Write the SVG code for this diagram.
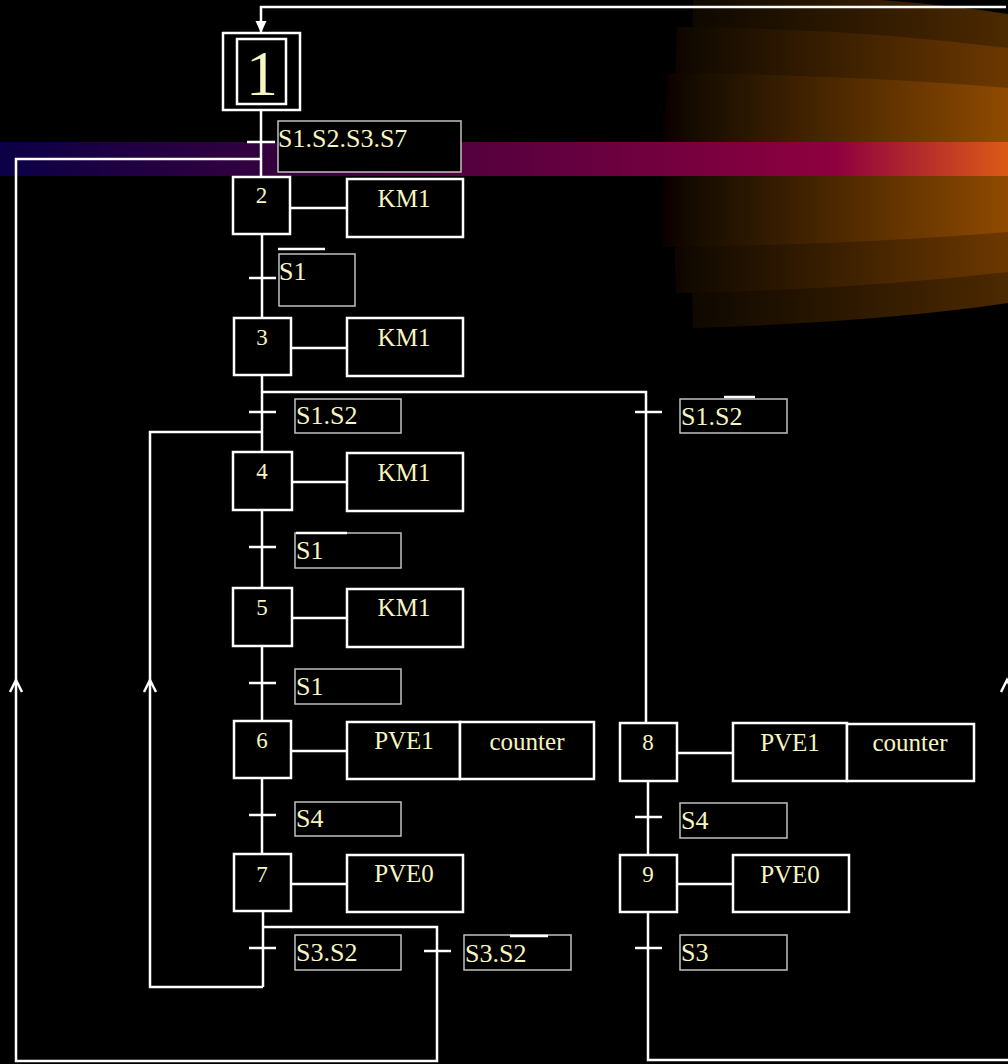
<svg xmlns="http://www.w3.org/2000/svg" width="1008" height="1064" viewBox="0 0 1008 1064">
<defs>
<linearGradient id="band" x1="0" y1="0" x2="1008" y2="0" gradientUnits="userSpaceOnUse">
<stop offset="0" stop-color="#0b0046"/>
<stop offset="0.3" stop-color="#3a003d"/>
<stop offset="0.55" stop-color="#62003f"/>
<stop offset="0.83" stop-color="#8f003f"/>
<stop offset="1" stop-color="#dc5a16"/>
</linearGradient>
<linearGradient id="o1" x1="665" y1="0" x2="1008" y2="0" gradientUnits="userSpaceOnUse">
<stop offset="0" stop-color="#0c0000"/>
<stop offset="0.08" stop-color="#0e0800"/>
<stop offset="1" stop-color="#4c2900"/>
</linearGradient>
<linearGradient id="o2" x1="665" y1="0" x2="1008" y2="0" gradientUnits="userSpaceOnUse">
<stop offset="0" stop-color="#0c0000"/>
<stop offset="0.08" stop-color="#120a00"/>
<stop offset="1" stop-color="#6c3800"/>
</linearGradient>
<linearGradient id="o3" x1="665" y1="0" x2="1008" y2="0" gradientUnits="userSpaceOnUse">
<stop offset="0" stop-color="#0c0000"/>
<stop offset="0.08" stop-color="#150c00"/>
<stop offset="1" stop-color="#8f4a00"/>
</linearGradient>
<marker id="ah" markerWidth="12" markerHeight="12" refX="12" refY="5.5" orient="auto" markerUnits="userSpaceOnUse" viewBox="0 0 12 11">
<path d="M0,0 L12,5.5 L0,11 Z" fill="#fff"/>
</marker>
</defs>
<style>
.step{fill:#000;stroke:#fff;stroke-width:2.5}
.act{fill:#000;stroke:#fff;stroke-width:2.5}
.cond{fill:#000;stroke:#c0c0c0;stroke-width:1.5}
.ln{fill:none;stroke:#fff;stroke-width:2.5}
.ov{stroke:#fff;stroke-width:2.5}
.t{font-family:"Liberation Serif","Times New Roman",serif;fill:#f7f5c0}
.num{font-size:23px;text-anchor:middle}
.an{font-size:25px;text-anchor:middle}
.ct{font-size:26px}
</style>
<rect x="0" y="0" width="1008" height="1064" fill="#000"/>
<g id="background">
<path d="M693,0 L880,0 Q950,5 1008,14 L1008,303 Q880,322 693,328 Q688,165 693,0 Z" fill="url(#o1)"/>
<path d="M677,27 Q850,28 1008,48 L1008,272 Q850,290 676,293 Q671,160 677,27 Z" fill="url(#o2)"/>
<path d="M668,73 Q850,75 1008,88 L1008,232 Q850,245 663,247 Q661,160 668,73 Z" fill="url(#o3)"/>
<rect x="0" y="142" width="1008" height="34" fill="url(#band)"/>
</g>
<g id="connectors">
<path class="ln" d="M1006,7 L261,7 L261,33" marker-end="url(#ah)"/>
<path class="ln" d="M261,110 L261,177"/>
<path class="ln" d="M247,142 L275,142"/>
<path class="ln" d="M261,159 L16,159 L16,1061 L437,1061 L437,927 L263,927"/>
<path class="ln" d="M10,692 L16,680 L22,692"/>
<path class="ln" d="M290,208 L347,208"/>
<path class="ln" d="M262,234 L262,318"/>
<path class="ln" d="M249,278 L276,278"/>
<path class="ln" d="M291,348 L347,348"/>
<path class="ln" d="M262,375 L262,453"/>
<path class="ln" d="M262,392 L646,392 L646,722"/>
<path class="ln" d="M249,412 L276,412"/>
<path class="ln" d="M635,412 L662,412"/>
<path class="ln" d="M262,432 L150,432 L150,987 L263,987"/>
<path class="ln" d="M144,692 L150,680 L156,692"/>
<path class="ln" d="M292,482 L347,482"/>
<path class="ln" d="M262,510 L262,588"/>
<path class="ln" d="M249,547 L276,547"/>
<path class="ln" d="M292,618 L347,618"/>
<path class="ln" d="M262,646 L262,721"/>
<path class="ln" d="M249,683 L276,683"/>
<path class="ln" d="M291,751 L347,751"/>
<path class="ln" d="M262,778 L262,854"/>
<path class="ln" d="M249,815 L276,815"/>
<path class="ln" d="M291,884 L347,884"/>
<path class="ln" d="M263,911 L263,987"/>
<path class="ln" d="M249,948 L276,948"/>
<path class="ln" d="M424,951 L451,951"/>
<path class="ln" d="M677,753 L733,753"/>
<path class="ln" d="M648,781 L648,854"/>
<path class="ln" d="M635,817 L662,817"/>
<path class="ln" d="M677,884 L733,884"/>
<path class="ln" d="M648,912 L648,1060 L1008,1060"/>
<path class="ln" d="M635,948 L662,948"/>
<path class="ln" d="M1001,692 L1007,680 L1013,692"/>
</g>
<g id="step1">
<rect class="step" x="223" y="33" width="77" height="77"/>
<rect class="step" x="237" y="39" width="49" height="65"/>
<text class="t" x="262" y="95" font-size="64" text-anchor="middle">1</text>
</g>
<g id="cond1">
<rect class="cond" x="278" y="121" width="183" height="51"/>
<text class="t ct" x="278" y="147">S1.S2.S3.S7</text>
</g>
<g id="step2">
<rect class="step" x="233" y="177" width="57" height="57"/>
<text class="t num" x="261.5" y="203">2</text>
</g>
<g id="act2">
<rect class="act" x="347" y="179" width="116" height="58"/>
<text class="t an" x="404" y="207">KM1</text>
</g>
<g id="cond2">
<line class="ov" x1="278" y1="249" x2="325" y2="249"/>
<rect class="cond" x="279" y="254" width="76" height="52"/>
<text class="t ct" x="279" y="280">S1</text>
</g>
<g id="step3">
<rect class="step" x="234" y="318" width="57" height="57"/>
<text class="t num" x="262" y="345">3</text>
</g>
<g id="act3">
<rect class="act" x="347" y="318" width="116" height="58"/>
<text class="t an" x="404" y="346">KM1</text>
</g>
<g id="cond3">
<rect class="cond" x="295" y="399" width="106" height="34"/>
<text class="t ct" x="296" y="424">S1.S2</text>
</g>
<g id="cond3b">
<line class="ov" x1="724" y1="397" x2="755" y2="397"/>
<rect class="cond" x="680" y="399" width="107" height="34"/>
<text class="t ct" x="681" y="425">S1.S2</text>
</g>
<g id="step4">
<rect class="step" x="233" y="452" width="59" height="58"/>
<text class="t num" x="262" y="479">4</text>
</g>
<g id="act4">
<rect class="act" x="347" y="453" width="116" height="58"/>
<text class="t an" x="404" y="481">KM1</text>
</g>
<g id="cond4">
<rect class="cond" x="295" y="533" width="106" height="35"/>
<line class="ov" x1="296" y1="533" x2="347" y2="533"/>
<text class="t ct" x="296" y="559">S1</text>
</g>
<g id="step5">
<rect class="step" x="233" y="588" width="59" height="58"/>
<text class="t num" x="262" y="615">5</text>
</g>
<g id="act5">
<rect class="act" x="347" y="589" width="116" height="58"/>
<text class="t an" x="404" y="616">KM1</text>
</g>
<g id="cond5">
<rect class="cond" x="295" y="669" width="106" height="35"/>
<text class="t ct" x="296" y="695">S1</text>
</g>
<g id="step6">
<rect class="step" x="234" y="721" width="57" height="57"/>
<text class="t num" x="262" y="748">6</text>
</g>
<g id="act6">
<rect class="act" x="347" y="722" width="113" height="57"/>
<text class="t an" x="404" y="749">PVE1</text>
</g>
<g id="act6b">
<rect class="act" x="460" y="722" width="134" height="57"/>
<text class="t an" x="527" y="750">counter</text>
</g>
<g id="cond6">
<rect class="cond" x="295" y="802" width="106" height="34"/>
<text class="t ct" x="296" y="827">S4</text>
</g>
<g id="step7">
<rect class="step" x="234" y="854" width="57" height="57"/>
<text class="t num" x="262" y="882">7</text>
</g>
<g id="act7">
<rect class="act" x="347" y="855" width="116" height="57"/>
<text class="t an" x="404" y="882">PVE0</text>
</g>
<g id="cond7a">
<rect class="cond" x="295" y="935" width="106" height="35"/>
<text class="t ct" x="296" y="961">S3.S2</text>
</g>
<g id="cond7b">
<rect class="cond" x="464" y="935" width="107" height="35"/>
<line class="ov" x1="510" y1="936" x2="548" y2="936"/>
<text class="t ct" x="465" y="962">S3.S2</text>
</g>
<g id="step8">
<rect class="step" x="620" y="723" width="57" height="58"/>
<text class="t num" x="648" y="750">8</text>
</g>
<g id="act8">
<rect class="act" x="733" y="723" width="114" height="58"/>
<text class="t an" x="790" y="751">PVE1</text>
</g>
<g id="act8b">
<rect class="act" x="847" y="724" width="127" height="57"/>
<text class="t an" x="910" y="751">counter</text>
</g>
<g id="cond8">
<rect class="cond" x="680" y="803" width="107" height="35"/>
<text class="t ct" x="681" y="829">S4</text>
</g>
<g id="step9">
<rect class="step" x="620" y="855" width="57" height="57"/>
<text class="t num" x="648" y="882">9</text>
</g>
<g id="act9">
<rect class="act" x="733" y="855" width="116" height="57"/>
<text class="t an" x="790" y="883">PVE0</text>
</g>
<g id="cond9">
<rect class="cond" x="680" y="935" width="107" height="35"/>
<text class="t ct" x="681" y="961">S3</text>
</g>
</svg>
